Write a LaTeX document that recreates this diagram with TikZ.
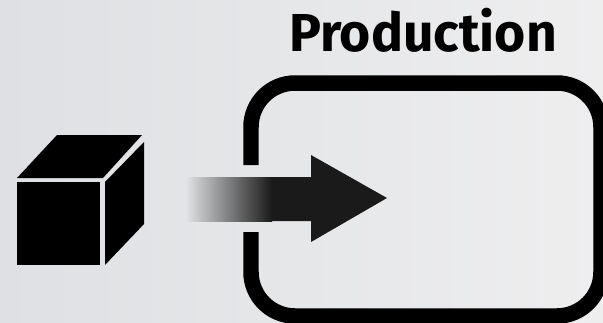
\documentclass[tikz,border=0pt]{standalone}
\usepackage{fontspec}
\setmainfont{Fira Sans}
\usetikzlibrary{positioning}
\definecolor{bgleft}{HTML}{DEE0E3}
\definecolor{bgright}{HTML}{EEEEEF}
\definecolor{arrowdark}{HTML}{1A1A1A}
\tikzset{
  boxline/.style={draw=black, line width=0.31cm, rounded corners=0.88cm},
  titlelabel/.style={font=\bfseries\fontsize{30.4}{31}\selectfont, text=black, inner sep=0pt}
}

\begin{document}
\begin{tikzpicture}[x=0.02cm, y=-0.02cm]
% Background
\clip (0,0) rectangle (603,322);
\shade[left color=bgleft, right color=bgright] (0,0) rectangle (603,322);

% Cube
\fill[black] (17,182) rectangle (100,265);
\fill[black] (17,178) -- (57,135) -- (142,135) -- (103,178) -- cycle;
\fill[black] (105,182) -- (144,142) -- (144,224) -- (105,265) -- cycle;

% Production box
\draw[boxline] (251,165) -- (251,83) -- (601,83) -- (601,316) -- (251,316) -- (251,232);

% Arrow
\shade[left color=bgright!30!bgleft, middle color=black!30, right color=arrowdark] (185,177) rectangle (272,221);
\fill[arrowdark] (272,177) -- (311,177) -- (311,155) -- (387,198) -- (311,242) -- (311,221) -- (272,221) -- cycle;

% Title
\node[titlelabel, anchor=base] (production) at (423,51) {Production};
\end{tikzpicture}
\end{document}
